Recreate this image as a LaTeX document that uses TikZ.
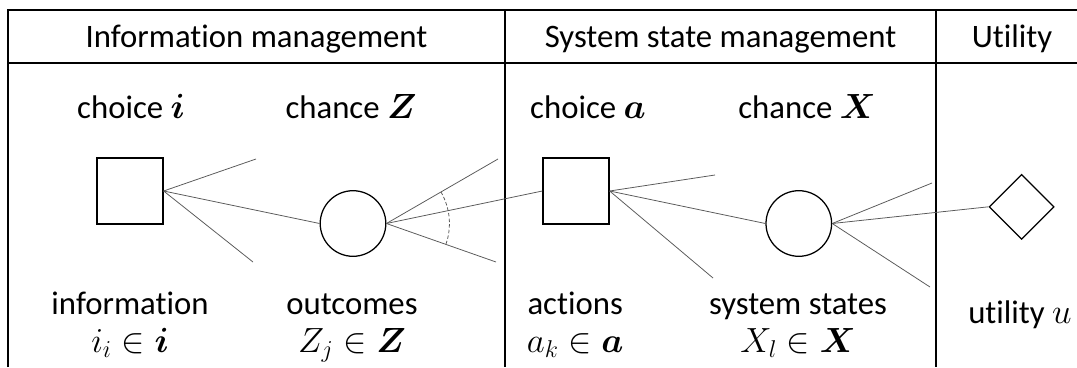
\documentclass[tikz,border=0pt]{standalone}
\usepackage{bm}
\usepackage{fontspec}
\setmainfont[Ligatures=NoCommon]{Carlito}
\usetikzlibrary{shapes.geometric}

\begin{document}
\begin{tikzpicture}[
  decnode/.style={draw,line width=0.9pt,minimum size=1.65cm,inner sep=0pt},
  chancenode/.style={circle,draw,line width=0.9pt,minimum size=1.64cm,inner sep=0pt},
  valnode/.style={diamond,draw,line width=0.9pt,minimum width=1.625cm,
    minimum height=1.625cm,inner sep=0pt},
  frame/.style={line width=0.8pt},
  br/.style={line width=0.55pt,black!65},
  lab/.style={anchor=base,align=center,inner sep=0pt,
    font=\fontsize{23.3}{27}\selectfont}]

\useasboundingbox (0,0) rectangle (26.925,-9.175);

% table
\draw[frame] (0.2,-9.175) -- (0.2,-0.25) -- (26.925,-0.25);
\draw[frame] (0.2,-1.575) -- (26.925,-1.575);
\draw[frame] (12.625,-0.25) -- (12.625,-9.175);
\draw[frame] (23.4,-0.25) -- (23.4,-9.175);

\node[lab] (hinfo) at (6.4125,-1.175) {Information management};
\node[lab] (hsys) at (18.0125,-1.175) {System state management};
\node[lab] (hutil) at (25.3,-1.175) {Utility};

\node[lab] (chi) at (3.275,-2.95) {choice $\bm{i}$};
\node[lab] (chz) at (8.775,-2.95) {chance $\bm{Z}$};
\node[lab] (cha) at (14.7,-2.95) {choice $\bm{a}$};
\node[lab] (chx) at (20.175,-2.95) {chance $\bm{X}$};

% tree
\node[decnode] (di) at (3.25,-4.775) {};
\node[chancenode] (cz) at (8.825,-5.5875) {};
\node[decnode] (da) at (14.4,-4.775) {};
\node[chancenode] (cx) at (19.97,-5.5875) {};
\node[valnode] (u) at (25.54,-5.17) {};

\coordinate (di1) at (6.4,-3.975);
\coordinate (di2) at (6.325,-6.55);
\coordinate (cz1) at (12.45,-3.975);
\coordinate (cz2) at (12.4,-6.55);
\coordinate (da1) at (17.875,-4.375);
\coordinate (da2) at (17.825,-6.95);
\coordinate (cx1) at (23.3,-4.575);
\coordinate (cx2) at (23.25,-7.175);

\draw[br] (di.east) -- (di1);
\draw[br] (di.east) -- (cz.west);
\draw[br] (di.east) -- (di2);
\draw[br] (cz.east) -- (cz1);
\draw[br] (cz.east) -- (da.west);
\draw[br] (cz.east) -- (cz2);
\draw[br] (da.east) -- (da1);
\draw[br] (da.east) -- (cx.west);
\draw[br] (da.east) -- (da2);
\draw[br] (cx.east) -- (cx1);
\draw[br] (cx.east) -- (u.west);
\draw[br] (cx.east) -- (cx2);
\draw[br,dash pattern=on 2.5pt off 1.5pt] (cz.east) ++(30.1:1.575)
  arc[start angle=30.1,end angle=-19.1,radius=1.575];

\node[lab] (tinfo) at (3.25,-8.8) {information\\$i_i \in \bm{i}$};
\node[lab] (tout) at (8.8,-8.8) {outcomes\\$Z_j \in \bm{Z}$};
\node[lab] (tact) at (14.38,-8.8) {actions\\$a_k \in \bm{a}$};
\node[lab] (tstate) at (19.95,-8.8) {system states\\$X_l \in \bm{X}$};
\node[lab] (tutil) at (25.5,-8.075) {utility $u$};
\end{tikzpicture}
\end{document}
